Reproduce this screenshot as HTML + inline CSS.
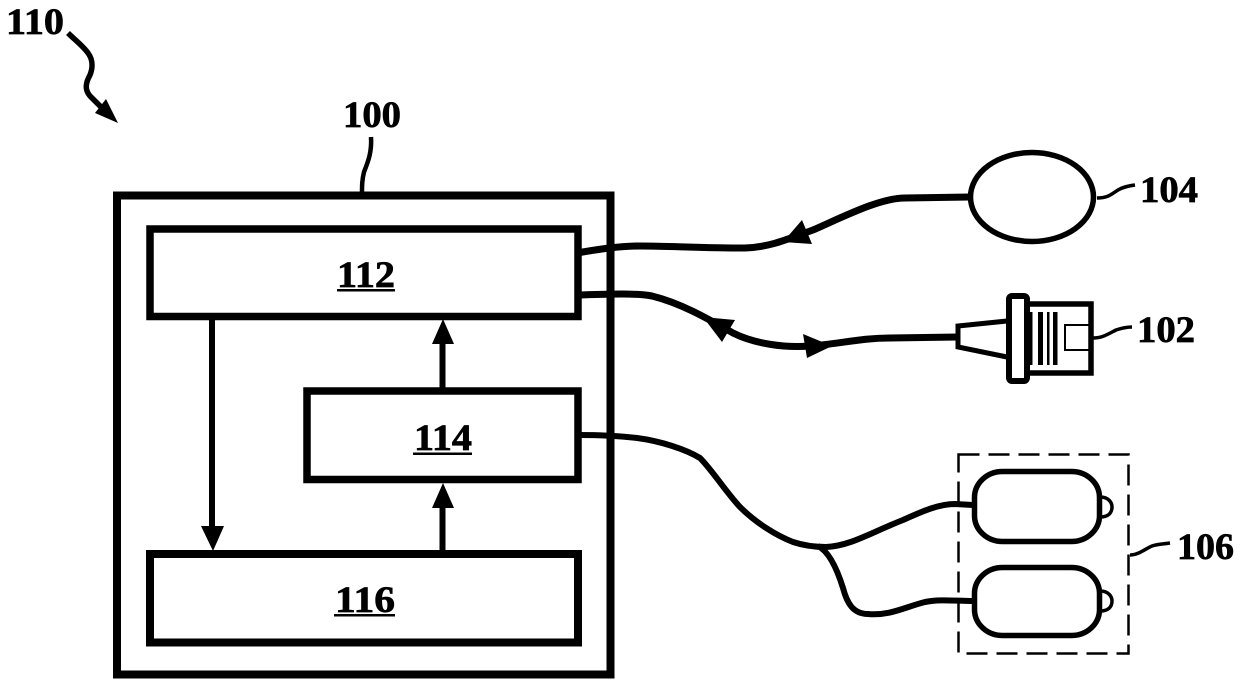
<!DOCTYPE html>
<html><head><meta charset="utf-8"><style>
html,body{margin:0;padding:0;background:#fff}
svg{display:block}
text{font-family:"Liberation Serif",serif;font-weight:bold;font-size:37px;fill:#000;stroke:#000;stroke-width:.7px}
</style></head><body>
<svg width="1240" height="685" viewBox="0 0 1240 685" xmlns="http://www.w3.org/2000/svg">
<g fill="none" stroke="#000">
<rect x="117" y="195.5" width="493.5" height="479" stroke-width="8"/>
<rect x="150" y="229" width="428" height="87.5" stroke-width="7.5"/>
<rect x="307" y="391" width="271" height="88.5" stroke-width="7.5"/>
<rect x="150" y="554" width="428" height="88.5" stroke-width="8"/>
<path d="M212 320V528" stroke-width="6"/>
<path d="M442.5 344V388" stroke-width="6"/>
<path d="M442.5 506V551" stroke-width="6"/>
<path d="M577 253C600 249 620 246 640 246C670 246 700 248 745 248C770 247 785 240 813 230C845 216 880 198 905 198L970 197" stroke-width="7"/>
<path d="M578 295C610 294 635 293 652 296C680 303 705 317 733 333C755 344 785 348 810 346C840 344 860 338 890 338L958 337" stroke-width="7"/>
<path d="M578 435C600 435 620 436 637 438C660 441 685 449 700 458C712 470 726 492 740 507C755 522 775 535 793 542C805 546 815 547 826 547C850 546 870 533 903 520C925 510 940 504 955 504L973 505" stroke-width="6"/>
<path d="M818 546C830 552 838 572 843 588C847 603 853 614 868 614C890 616 905 607 925 602C940 599 955 601 973 601" stroke-width="6"/>
<path d="M68 33C75 40 83 46 88 53C94 61 92 70 90 75C85 84 85 90 90 96L102 108" stroke-width="5.5"/>
<path d="M371 137C372 152 368 162 364 172C362 180 362 186 362 193" stroke-width="4.5"/>
<path d="M1097 198C1108 198 1112 194 1118 190C1123 187 1128 186 1135 185" stroke-width="3.5"/>
<path d="M1093 338C1103 338 1110 333 1116 330C1122 328 1127 327 1132 327" stroke-width="3.5"/>
<path d="M1130 555C1138 555 1145 549 1152 546C1158 544 1164 544 1170 543" stroke-width="3.5"/>
<ellipse cx="1032" cy="197" rx="61.5" ry="44.5" stroke-width="5.5"/>
<rect x="974.5" y="471.5" width="125" height="70" rx="28" ry="26" stroke-width="5.5"/>
<rect x="974.5" y="567.5" width="125" height="68" rx="28" ry="26" stroke-width="5.5"/>
<path d="M1100 497C1109 497 1112 503 1112 507C1112 513 1108 517 1100 517" stroke-width="3.5"/>
<path d="M1100 591C1109 591 1112 597 1112 601C1112 607 1108 611 1100 611" stroke-width="3.5"/>
<rect x="958.5" y="454.5" width="170" height="199" stroke-width="2.5" stroke-dasharray="21 9"/>
<rect x="1009" y="296" width="18" height="85" rx="3" stroke-width="6"/>
<path d="M1027 304H1091V373H1027" stroke-width="5.5"/>
<path d="M1007 321L958 326V347L1007 357" stroke-width="5"/>
<path d="M1092 325H1065V350H1092" stroke-width="2"/>
</g>
<g fill="#000">
<path d="M201 526H224L213 551Z"/>
<path d="M432 344H454L443 319Z"/>
<path d="M432 508H454L443 483Z"/>
<path d="M95 113L106 99L118 123Z"/>
<path d="M783 242L802 220L812 244Z"/>
<path d="M703 317L735 320L722 342Z"/>
<path d="M803 334L832 346L807 358Z"/>
<rect x="1030" y="312" width="2.5" height="53"/>
<rect x="1038" y="312" width="5" height="53"/>
<rect x="1047" y="312" width="2.5" height="53"/>
<rect x="1053" y="312" width="4.5" height="53"/>
</g>
<g>
<text x="6" y="34" textLength="58" lengthAdjust="spacingAndGlyphs">110</text>
<text x="343" y="127" textLength="58" lengthAdjust="spacingAndGlyphs">100</text>
<text x="1140" y="202" textLength="58" lengthAdjust="spacingAndGlyphs">104</text>
<text x="1137" y="342" textLength="58" lengthAdjust="spacingAndGlyphs">102</text>
<text x="1177" y="559" textLength="57" lengthAdjust="spacingAndGlyphs">106</text>
<text x="337" y="287" textLength="58" lengthAdjust="spacingAndGlyphs">112</text>
<text x="414" y="450" textLength="58" lengthAdjust="spacingAndGlyphs">114</text>
<text x="335" y="612" textLength="60" lengthAdjust="spacingAndGlyphs">116</text>
</g>
<g fill="#000">
<rect x="337" y="289" width="58" height="2.5"/>
<rect x="413" y="452.5" width="59" height="2.5"/>
<rect x="334" y="614" width="61" height="2.5"/>
</g>
</svg>
</body></html>
